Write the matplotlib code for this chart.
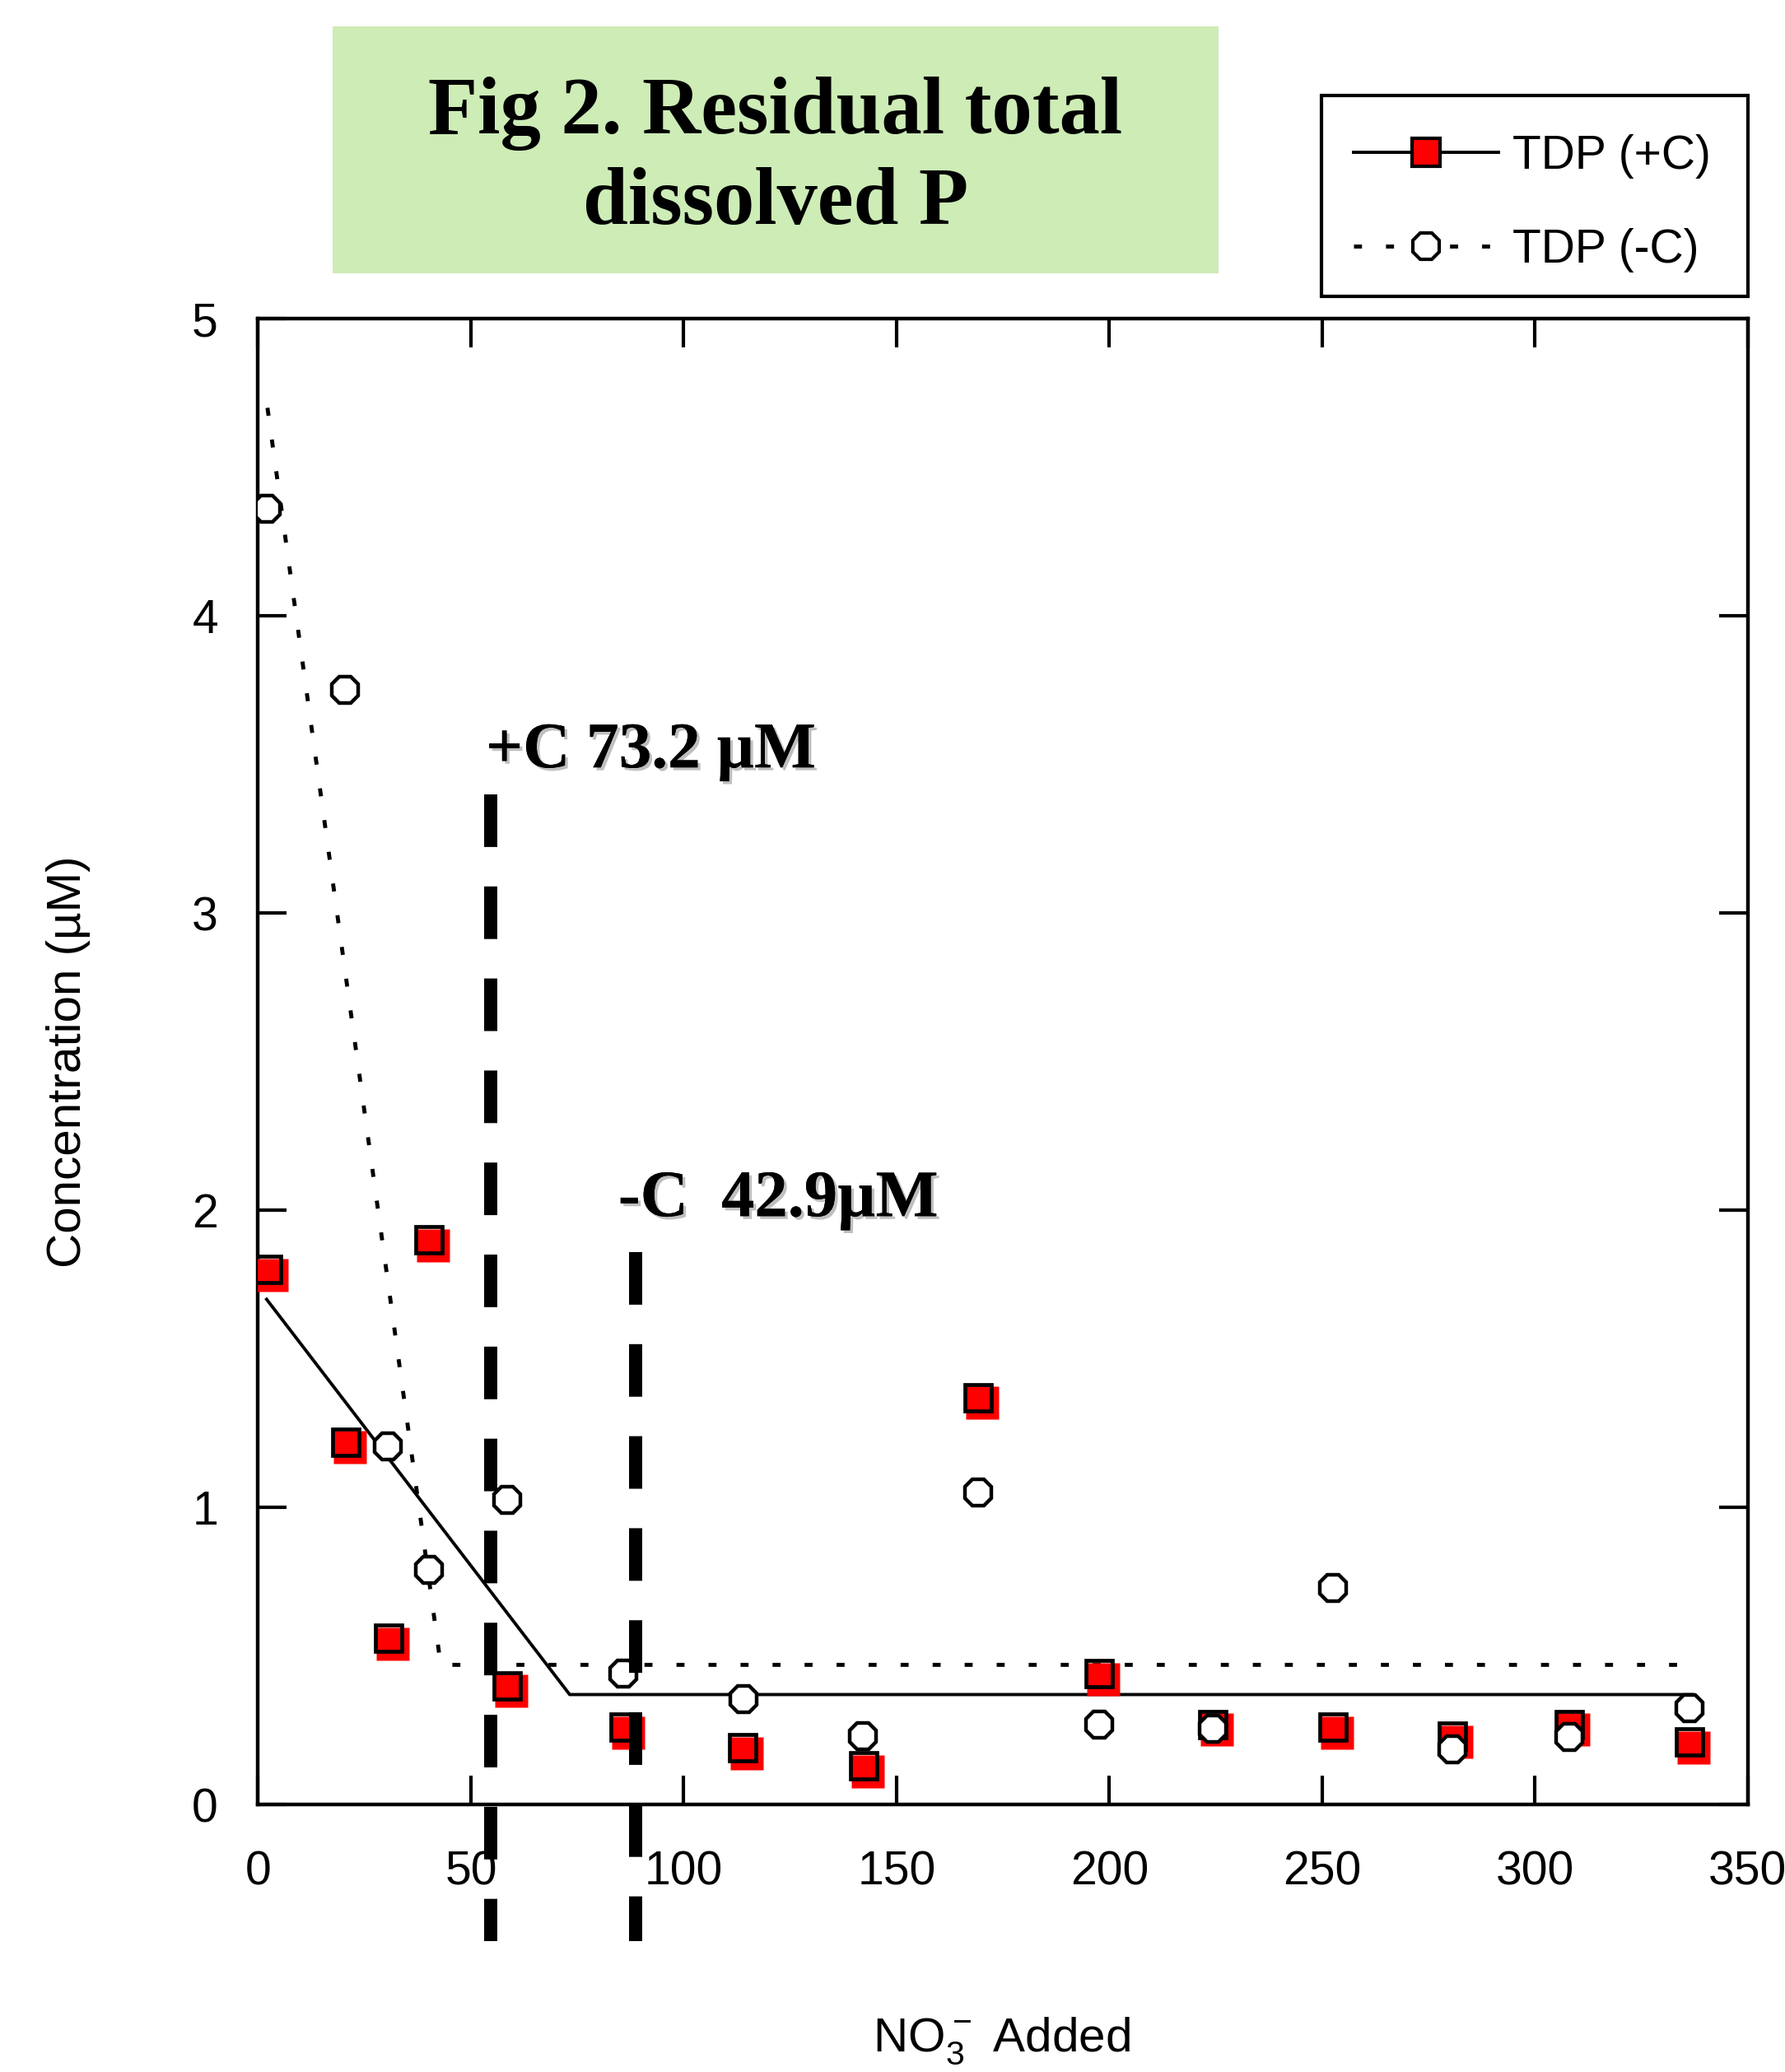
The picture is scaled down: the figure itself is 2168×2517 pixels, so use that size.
import matplotlib
matplotlib.use("Agg")
import matplotlib.pyplot as plt
import matplotlib.patheffects as pe
from matplotlib.lines import Line2D
from matplotlib.patches import Rectangle
from matplotlib.transforms import offset_copy

plt.rcParams['font.family'] = ['Liberation Sans', 'DejaVu Sans']
plt.rcParams['mathtext.fontset'] = 'custom'
plt.rcParams['mathtext.rm'] = 'Liberation Sans'

# TDP with carbon added (+C)
x_pc = [2.2, 20.6, 30.6, 40.1, 58.5, 86.0, 113.8, 142.3, 169.2, 197.6, 224.3, 252.5, 280.5, 308.0, 336.3]
y_pc = [1.80, 1.22, 0.56, 1.90, 0.40, 0.26, 0.19, 0.13, 1.37, 0.44, 0.27, 0.26, 0.23, 0.27, 0.21]
# TDP without carbon (-C)
x_mc = [2.0, 20.4, 30.5, 40.1, 58.5, 85.8, 114.0, 142.1, 169.2, 197.6, 224.3, 252.5, 280.5, 308.0, 336.3]
y_mc = [4.36, 3.75, 1.205, 0.79, 1.025, 0.44, 0.354, 0.23, 1.05, 0.27, 0.255, 0.73, 0.186, 0.227, 0.324]

# broken-stick fits
fit_pc_x = [2.0, 73.2, 337.0]
fit_pc_y = [1.70, 0.37, 0.37]
fit_mc_x = [2.2, 42.9, 337.0]
fit_mc_y = [4.70, 0.47, 0.47]

# hand drawn threshold markers
vline_x = [54.7, 88.7]
vline_top = [3.40, 1.86]
vline_bottom = -0.46

x_ticks = [0, 50, 100, 150, 200, 250, 300, 350]
y_ticks = [0, 1, 2, 3, 4, 5]

dotted = (0, (2, 6))

fig = plt.figure(figsize=(21.68, 25.17), dpi=100)
ax = fig.add_axes([0.1446, 0.1291, 0.8346, 0.7171])

ax.plot(fit_pc_x, fit_pc_y, color='black', lw=2.8, zorder=2)
ax.plot(fit_mc_x, fit_mc_y, color='black', lw=3.5, ls=dotted, zorder=2)

red_shift = offset_copy(ax.transData, fig=fig, x=5, y=-6.6, units='dots')
ax.plot(x_pc, y_pc, ls='none', marker='s', ms=29.5, mfc='red', mec='none',
        transform=red_shift, zorder=3)
ax.plot(x_pc, y_pc, ls='none', marker='s', ms=23, mfc='none', mec='black',
        mew=3.4, zorder=4)
ax.plot(x_mc, y_mc, ls='none', marker='8', ms=25, mfc='white', mec='black',
        mew=3.2, zorder=5)

for xv, top in zip(vline_x, vline_top):
    ax.plot([xv, xv], [top, vline_bottom], color='black', lw=11.5,
            ls=(0, (4.0, 3.0)), solid_capstyle='butt', dash_capstyle='butt',
            clip_on=False, zorder=6)

shadow = [pe.withSimplePatchShadow(offset=(2.5, -2.5), shadow_rgbFace='gray', alpha=0.5), pe.Normal()]
ax.text(53.5, 3.49, '+C 73.2 \u00b5M', family='Liberation Serif', weight='bold',
        fontsize=57, va='baseline', ha='left', path_effects=shadow, zorder=7)
ax.text(84.6, 1.98, '-C  42.9\u00b5M', family='Liberation Serif', weight='bold',
        fontsize=58, va='baseline', ha='left', path_effects=shadow, zorder=7)

ax.set_xlim(0, 350)
ax.set_ylim(0, 5)
ax.set_xticks(x_ticks)
ax.set_yticks(y_ticks)
ax.tick_params(direction='in', length=25, width=3, top=True, right=True,
               labelsize=41)
ax.tick_params(axis='x', pad=40)
ax.tick_params(axis='y', pad=35)
for s in ax.spines.values():
    s.set_linewidth(3.2)

fig.text(0.0383, 0.4875, 'Concentration (\u00b5M)', rotation=90, ha='center',
         va='center', fontsize=42)
fig.text(0.5613, 0.0099, r'NO$_3^-$ Added', ha='center', va='baseline', fontsize=42)

# title box
fig.patches.append(Rectangle((0.1863, 0.8681), 0.4963, 0.1192, facecolor='#cdecb6',
                             edgecolor='none', transform=fig.transFigure, zorder=0))
fig.text(0.4345, 0.9233, 'Fig 2. Residual total\ndissolved P', ha='center', va='center',
         family='Liberation Serif', weight='bold', fontsize=71, linespacing=1.3)

# legend
fig.patches.append(Rectangle((0.7403, 0.857), 0.239, 0.0969, facecolor='white',
                             edgecolor='black', lw=3, transform=fig.transFigure))
h_pc = Line2D([], [], color='black', lw=2.8, marker='s', ms=25, mfc='red', mec='black', mew=3)
h_mc = Line2D([], [], color='black', lw=3.5, ls=dotted, marker='8', ms=25, mfc='white',
              mec='black', mew=3)
fig.legend([h_pc, h_mc], ['TDP (+C)', 'TDP (-C)'], loc='center left',
           bbox_to_anchor=(0.745, 0.9019), frameon=False, fontsize=41, numpoints=1,
           handlelength=3.1, handletextpad=0.3, labelspacing=1.05, borderpad=0)

fig.savefig('out.png', dpi=100, facecolor='white')
